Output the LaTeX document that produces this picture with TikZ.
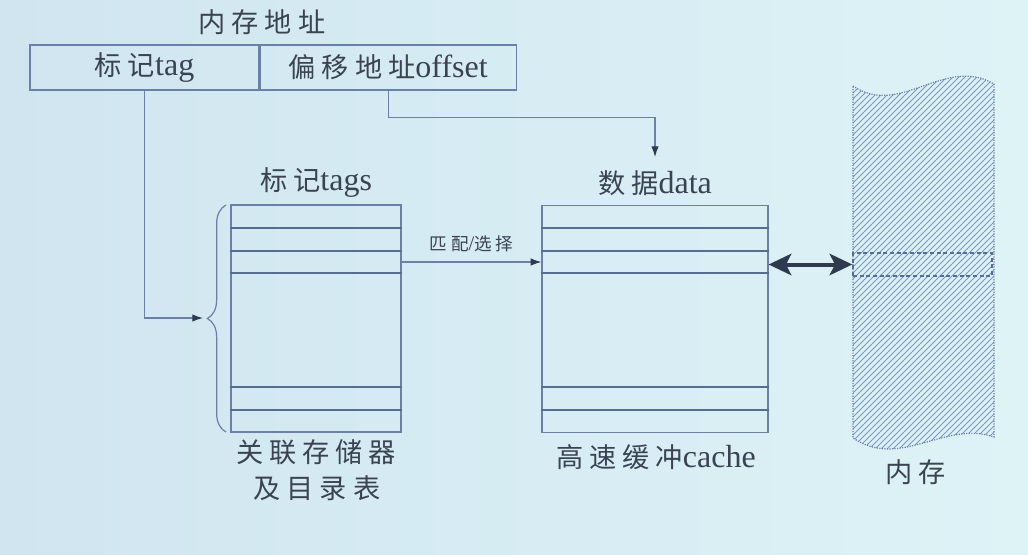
\documentclass[tikz,border=0pt]{standalone}
\usepackage{fontspec}
\setmainfont{Liberation Serif}
\newfontfamily\cjk[Scale=0.85, LetterSpace=22]{Noto Sans CJK SC}
\usetikzlibrary{arrows.meta, positioning, decorations.pathreplacing}
\definecolor{bgleft}{HTML}{D0E5F0}
\definecolor{bgright}{HTML}{DDF3F6}
\definecolor{linec}{HTML}{6A80A6}
\definecolor{rowc}{HTML}{566C90}
\definecolor{textc}{HTML}{3A4352}
\definecolor{hatchc}{HTML}{7F98BF}
\definecolor{arrowc}{HTML}{2E3B4E}
\newcommand{\zh}[1]{{\cjk #1}}
\tikzset{%
	field/.style={draw=linec, line width=0.9pt, minimum height=33.75pt, inner sep=0pt,%
		text=textc, font=\rmfamily\fontsize{24}{28}\selectfont},
	tbl/.style={draw=linec, line width=0.9pt, minimum width=127.5pt, minimum height=170.25pt, inner sep=0pt},
	row/.style={rowc, line width=1.2pt},
	lbl/.style={text=textc, font=\rmfamily\fontsize{24}{28}\selectfont, inner sep=0pt},
	small/.style={text=textc, font=\rmfamily\fontsize{15.5}{18}\selectfont, inner sep=0pt},
	link/.style={linec, line width=0.8pt, -{Latex[length=8pt, width=5.5pt, color=arrowc]}},
	dbl/.style={arrowc, line width=3pt,%
		{Stealth[length=17pt, width=16pt, inset=4pt]}-{Stealth[length=17pt, width=16pt, inset=4pt]}},
	mem/.style={draw=linec, densely dotted, line width=0.9pt},
	hatch/.style={hatchc, line width=0.6pt},
	band/.style={draw=rowc, densely dashed, line width=1pt, minimum width=104.25pt, minimum height=17.25pt, inner sep=0pt}
}
\begin{document}
\begin{tikzpicture}[x=0.75pt, y=-0.75pt]
	\shade[left color=bgleft, right color=bgright] (0,0) rectangle (1028,554);
	\useasboundingbox (0,0) rectangle (1028,554);

	% address fields
	\node[lbl] (addr) at (262,22) {\zh{内存地址}};
	\node[field, minimum width=171.75pt] (tagf) at (144.5,67.5) {\zh{标记}tag};
	\node[field, minimum width=192pt, right=0pt of tagf] (offf) {\zh{偏移地址}offset};

	% tag table and data table
	\node[tbl] (tags) at (316,318.5) {};
	\node[tbl, minimum width=169.5pt] (data) at (655,319) {};
	\foreach \y in {228,251,273,387,410} {
		\draw[row] (tags.west |- 0,\y) -- (tags.east |- 0,\y);
		\draw[row] (data.west |- 0,\y) -- (data.east |- 0,\y);
	}
	\node[lbl] (tagslbl) at (316,183) {\zh{标记}tags};
	\node[lbl] (datalbl) at (655,183) {\zh{数据}data};
	\node[lbl] (assoc1) at (316,452) {\zh{关联存储器}};
	\node[lbl] (assoc2) at (317,488) {\zh{及目录表}};
	\node[lbl] (cachelbl) at (656,457) {\zh{高速缓冲}cache};

	% brace in front of the tag table
	\draw[linec, line width=0.9pt, decorate, decoration={brace, amplitude=14pt}] (226,432) -- (226,205);
	\coordinate (btip) at (203,318);
	\coordinate (dtip) at (655,157);

	% memory, hatched
	\begin{scope}
		\clip (853,86) .. controls (900,118) and (945,55) .. (994,84) -- (994,437)
			.. controls (945,420) and (900,470) .. (853,438) -- cycle;
		\foreach \x in {450,456,...,1000}
			\draw[hatch] (\x,460) -- ++(400,-400);
	\end{scope}
	\draw[mem] (853,86) .. controls (900,118) and (945,55) .. (994,84) -- (994,437)
		.. controls (945,420) and (900,470) .. (853,438) -- cycle;
	\node[band] (line) at (922.5,264.5) {};
	\node[lbl] (memlbl) at (916,472) {\zh{内存}};

	% connectors
	\draw[link] (tagf.south) |- (btip);
	\draw[link] (offf.south) -- ++(0,27) -| (dtip);
	\draw[link] (tags.east |- 0,262) -- (data.west |- 0,262)
		node[small, midway, above=7pt] (match) {\zh{匹配}/\zh{选择}};
	\draw[dbl] (data.east |- line.west) -- (line.west);
\end{tikzpicture}
\end{document}
